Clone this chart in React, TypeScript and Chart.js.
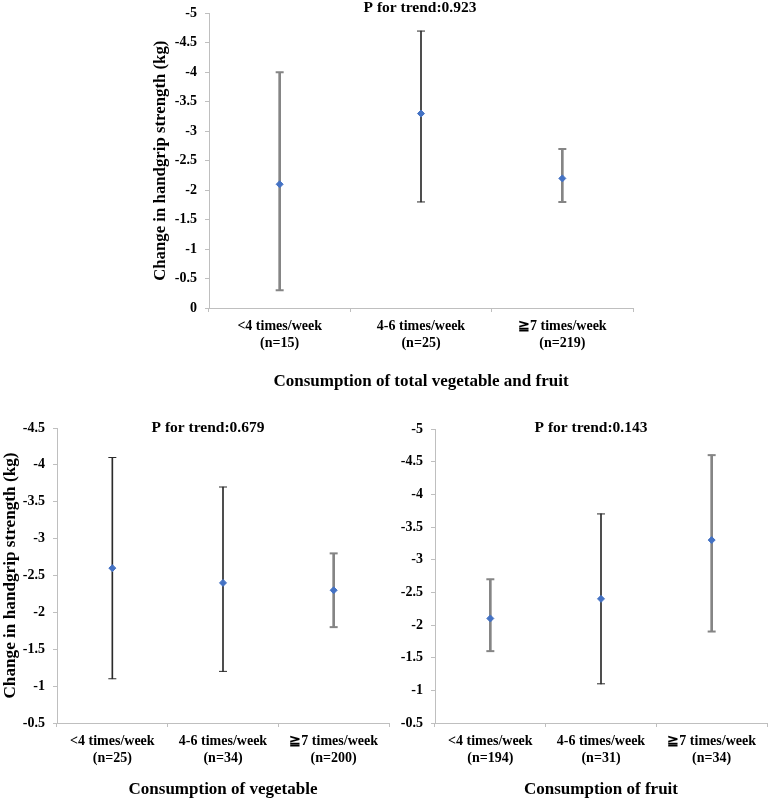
import { useEffect, useRef } from "react";
import { Chart, registerables } from "chart.js";

Chart.register(...registerables);

// top panel: total vegetable and fruit
const totalLabels = [
  ["<4 times/week", "(n=15)"],
  ["4-6 times/week", "(n=25)"],
  ["≧7 times/week", "(n=219)"],
];
const totalMean = [-2.1, -3.3, -2.2];
const totalLow = [-0.3, -1.8, -1.8];
const totalHigh = [-4.0, -4.7, -2.7];

// bottom left: vegetable
const vegLabels = [
  ["<4 times/week", "(n=25)"],
  ["4-6 times/week", "(n=34)"],
  ["≧7 times/week", "(n=200)"],
];
const vegMean = [-2.6, -2.4, -2.3];
const vegLow = [-1.1, -1.2, -1.8];
const vegHigh = [-4.1, -3.7, -2.8];

// bottom right: fruit
const fruitLabels = [
  ["<4 times/week", "(n=194)"],
  ["4-6 times/week", "(n=31)"],
  ["≧7 times/week", "(n=34)"],
];
const fruitMean = [-2.1, -2.4, -3.3];
const fruitLow = [-1.6, -1.1, -1.9];
const fruitHigh = [-2.7, -3.7, -4.6];

const SERIF = "'Liberation Serif', 'Times New Roman', 'DejaVu Serif', serif";
const AXIS_GRAY = "#bfbfbf";
const DARK = "#2b2b2b";
const GRAY = "#858585";
const BLUE = "#4472c4";

// draws the "P for trend" text over the top of the plot area
const trendLabel = {
  id: "trendLabel",
  afterDraw(chart: any, _args: any, opts: any) {
    if (!opts || !opts.text) return;
    const { ctx, chartArea } = chart;
    ctx.save();
    ctx.font = `bold 15.5px ${SERIF}`;
    ctx.fillStyle = "#000";
    ctx.textAlign = "center";
    ctx.textBaseline = "middle";
    const x = (chartArea.left + chartArea.right) / 2 + (opts.dx || 0);
    ctx.fillText(opts.text, x, chartArea.top + (opts.dy || 0));
    ctx.restore();
  },
};

type PanelProps = {
  left: number;
  top: number;
  width: number;
  height: number;
  labels: string[][];
  mean: number[];
  low: number[];
  high: number[];
  dark: boolean[];
  yMin: number;
  yMax: number;
  yWidth: number;
  xHeight: number;
  pad: { top: number; right: number };
  yTitle?: string;
  yTitleSize?: number;
  yTitlePad?: number;
  xTitle: string;
  xTitlePad: number;
  trend: string;
  trendDx: number;
  trendDy: number;
};

function Panel(p: PanelProps) {
  const canvasRef = useRef<HTMLCanvasElement>(null);

  useEffect(() => {
    if (!canvasRef.current) return;
    const ctx = canvasRef.current.getContext("2d");
    if (!ctx) return;

    const capColors = p.dark.map((d) => (d ? DARK : GRAY));
    const capWidths = p.dark.map((d) => (d ? 1 : 2));
    const range = (want: boolean) =>
      p.low.map((v, i) => (p.dark[i] === want ? [v, p.high[i]] : null));

    const chart = new Chart(ctx, {
      type: "bar",
      data: {
        labels: p.labels,
        datasets: [
          {
            type: "line",
            data: p.mean,
            showLine: false,
            pointStyle: "rectRot",
            pointRadius: 3.5,
            pointBorderWidth: 1,
            pointBackgroundColor: BLUE,
            pointBorderColor: BLUE,
            order: 0,
          },
          {
            type: "line",
            data: p.low,
            showLine: false,
            pointStyle: "line",
            pointRadius: 4,
            pointBorderWidth: capWidths,
            pointBorderColor: capColors,
            order: 1,
          },
          {
            type: "line",
            data: p.high,
            showLine: false,
            pointStyle: "line",
            pointRadius: 4,
            pointBorderWidth: capWidths,
            pointBorderColor: capColors,
            order: 1,
          },
          {
            type: "bar",
            data: range(true),
            backgroundColor: DARK,
            borderWidth: 0,
            barThickness: 1,
            grouped: false,
            order: 2,
          },
          {
            type: "bar",
            data: range(false),
            backgroundColor: GRAY,
            borderWidth: 0,
            barThickness: 2,
            grouped: false,
            order: 2,
          },
        ] as any,
      },
      options: {
        responsive: false,
        animation: false,
        layout: { padding: { left: 0, top: p.pad.top, right: p.pad.right, bottom: 0 } },
        plugins: {
          legend: { display: false },
          tooltip: { enabled: false },
          trendLabel: { text: p.trend, dx: p.trendDx, dy: p.trendDy },
        } as any,
        scales: {
          x: {
            afterFit: (axis: any) => {
              axis.height = p.xHeight;
            },
            grid: {
              drawOnChartArea: false,
              tickLength: 4,
              color: AXIS_GRAY,
              offset: true,
            },
            border: { color: AXIS_GRAY },
            ticks: {
              color: "#000",
              padding: 6,
              maxRotation: 0,
              autoSkip: false,
              font: { family: SERIF, size: 14, weight: "bold" },
            },
            title: {
              display: true,
              text: p.xTitle,
              color: "#000",
              padding: { top: 0, bottom: p.xTitlePad },
              font: { family: SERIF, size: 17, weight: "bold" },
            },
          },
          y: {
            reverse: true,
            min: p.yMin,
            max: p.yMax,
            afterFit: (axis: any) => {
              axis.width = p.yWidth;
            },
            grid: {
              drawOnChartArea: false,
              tickLength: 4,
              color: AXIS_GRAY,
            },
            border: { color: AXIS_GRAY },
            ticks: {
              stepSize: 0.5,
              color: "#000",
              padding: 8,
              font: { family: SERIF, size: 14, weight: "bold" },
              callback: (v: any) => String(Math.round(Number(v) * 10) / 10),
            },
            title: {
              display: !!p.yTitle,
              text: p.yTitle || "",
              color: "#000",
              padding: { top: p.yTitlePad || 0, bottom: 0 },
              font: { family: SERIF, size: p.yTitleSize || 17, weight: "bold" },
            },
          },
        },
      },
      plugins: [trendLabel],
    });

    return () => {
      chart.destroy();
    };
  }, []);

  return (
    <canvas
      ref={canvasRef}
      width={p.width}
      height={p.height}
      style={{
        position: "absolute",
        left: p.left,
        top: p.top,
        width: p.width,
        height: p.height,
      }}
    />
  );
}

export default function App() {
  return (
    <div
      style={{
        position: "absolute",
        left: 0,
        top: 0,
        width: 773,
        height: 802,
        background: "#fff",
        overflow: "hidden",
      }}
    >
      <Panel
        left={140}
        top={-3}
        width={510}
        height={398}
        labels={totalLabels}
        mean={totalMean}
        low={totalLow}
        high={totalHigh}
        dark={[false, true, false]}
        yMin={-5}
        yMax={0}
        yWidth={69}
        xHeight={87}
        pad={{ top: 0, right: 17 }}
        yTitle="Change in handgrip strength (kg)"
        yTitleSize={16.8}
        yTitlePad={11}
        xTitle="Consumption of total vegetable and fruit"
        xTitlePad={3}
        trend="P for trend:0.923"
        trendDx={-1}
        trendDy={-5.4}
      />
      <Panel
        left={0}
        top={395}
        width={395}
        height={407}
        labels={vegLabels}
        mean={vegMean}
        low={vegLow}
        high={vegHigh}
        dark={[true, true, false]}
        yMin={-4.5}
        yMax={-0.5}
        yWidth={57}
        xHeight={79}
        pad={{ top: 33, right: 2 }}
        yTitle="Change in handgrip strength (kg)"
        yTitleSize={17.2}
        yTitlePad={0}
        xTitle="Consumption of vegetable"
        xTitlePad={2}
        trend="P for trend:0.679"
        trendDx={-15}
        trendDy={0}
      />
      <Panel
        left={395}
        top={395}
        width={378}
        height={407}
        labels={fruitLabels}
        mean={fruitMean}
        low={fruitLow}
        high={fruitHigh}
        dark={[false, true, false]}
        yMin={-5}
        yMax={-0.5}
        yWidth={40}
        xHeight={79}
        pad={{ top: 34, right: 1 }}
        xTitle="Consumption of fruit"
        xTitlePad={2}
        trend="P for trend:0.143"
        trendDx={-10}
        trendDy={-1}
      />
    </div>
  );
}
